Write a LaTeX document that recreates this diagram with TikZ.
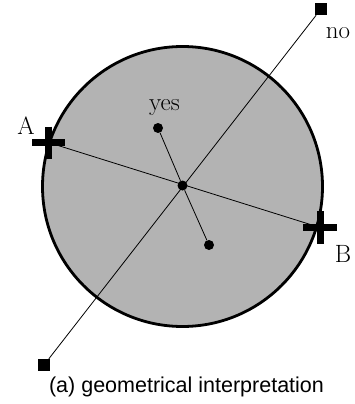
\documentclass[tikz,border=0pt]{standalone}
\usepackage{fontspec}
\newfontfamily\capfont{Liberation Sans}
\definecolor{diskgray}{RGB}{179,179,179}
\begin{document}
\begin{tikzpicture}[x=1pt,y=-1pt,
  dot/.style={circle,fill=black,inner sep=0pt,minimum size=10pt},
  sq/.style={rectangle,fill=black,inner sep=0pt,minimum size=12pt},
  lbl/.style={font=\fontsize{25}{25}\selectfont,inner sep=0pt,anchor=base},
  thinline/.style={line width=0.8pt},
  crossarm/.style={line width=7pt}]
\useasboundingbox (0,0) rectangle (355,404);
\fill[white] (0,0) rectangle (355,404);
\draw[fill=diskgray, line width=2.8pt] (182.5,186.5) circle[radius=140];
\coordinate (A) at (48.5,142.5);
\coordinate (B) at (320,227.5);
\node[dot] (C) at (182.5,185.5) {};
\node[dot] (Y) at (158,128) {};
\node[dot] (L) at (209,245) {};
\node[sq] (T) at (321,9) {};
\node[sq] (S) at (44,365) {};
\draw[thinline] (A) -- (B);
\draw[thinline] (S) -- (T);
\draw[thinline] (Y) -- (C) -- (L);
\draw[crossarm] (A) ++(-16.5,0) -- ++(33,0);
\draw[crossarm] (A) ++(0,-16) -- ++(0,32);
\draw[crossarm] (B) ++(-17,0) -- ++(34,0);
\draw[crossarm] (B) ++(0,-16.5) -- ++(0,33);
\node[lbl] (la) at (26,134) {A};
\node[lbl] (lb) at (343,262) {B};
\node[lbl] (ly) at (164.5,110) {yes};
\node[lbl] (ln) at (338,39) {no};
\node[font=\capfont\fontsize{21.5}{22}\selectfont, anchor=base, inner sep=0pt] (cap) at (186.5,392) {(a) geometrical interpretation};
\end{tikzpicture}
\end{document}
